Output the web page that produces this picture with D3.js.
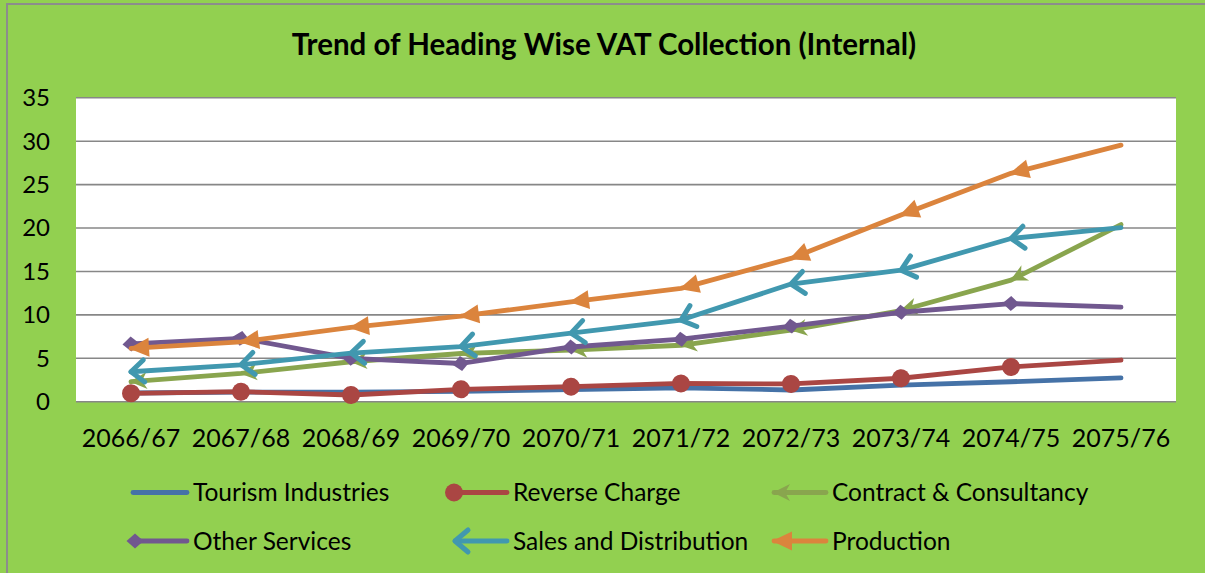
<!DOCTYPE html>
<html>
<head>
<meta charset="utf-8">
<script src="https://cdn.jsdelivr.net/npm/d3@7"></script>
<style>
  html, body { margin: 0; padding: 0; background: #92D050; }
  svg { display: block; font-family: Lato, "Open Sans", sans-serif; }
</style>
</head>
<body>
<div id="chart"></div>
<script>
// values
const categories = ['2066/67', '2067/68', '2068/69', '2069/70', '2070/71', '2071/72', '2072/73', '2073/74', '2074/75', '2075/76'];
const tourism = [1.0, 1.1, 1.1, 1.2, 1.4, 1.6, 1.35, 1.9, 2.3, 2.75];
const reverseCharge = [0.97, 1.15, 0.77, 1.43, 1.73, 2.1, 2.05, 2.7, 4.0, 4.8];
const contract = [2.3, 3.25, 4.6, 5.55, 5.95, 6.5, 8.25, 10.5, 14.0, 20.4];
const otherServices = [6.65, 7.3, 5.0, 4.4, 6.3, 7.2, 8.7, 10.3, 11.3, 10.9];
const sales = [3.45, 4.25, 5.6, 6.35, 7.9, 9.4, 13.55, 15.15, 18.8, 20.05];
const production = [6.15, 6.9, 8.55, 9.85, 11.5, 13.05, 16.5, 21.5, 26.3, 29.55];
const yTicks = [0, 5, 10, 15, 20, 25, 30, 35];

const series = [
  { name: 'Tourism Industries', values: tourism, color: '#4572A7', marker: 'none' },
  { name: 'Reverse Charge', values: reverseCharge, color: '#AA4643', marker: 'oval' },
  { name: 'Contract & Consultancy', values: contract, color: '#89A54E', marker: 'stealth' },
  { name: 'Other Services', values: otherServices, color: '#71588F', marker: 'diamond' },
  { name: 'Sales and Distribution', values: sales, color: '#4198AF', marker: 'open' },
  { name: 'Production', values: production, color: '#DB843D', marker: 'triangle' }
];

const width = 1205, height = 573;
const plot = { left: 76, right: 1176, top: 97.8, bottom: 401.7 };

const svg = d3.select('#chart').append('svg')
  .attr('width', width)
  .attr('height', height);

// chart area with the thin grey frame
svg.append('rect')
  .attr('x', 7).attr('y', 4)
  .attr('width', width + 20).attr('height', height + 20)
  .attr('fill', '#92D050')
  .attr('stroke', '#8c8c8c')
  .attr('stroke-width', 2);

const x = d3.scalePoint().domain(categories).range([plot.left, plot.right]).padding(0.5);
const y = d3.scaleLinear().domain([0, 35]).range([plot.bottom, plot.top]);

svg.append('rect')
  .attr('x', plot.left).attr('y', plot.top)
  .attr('width', plot.right - plot.left).attr('height', plot.bottom - plot.top)
  .attr('fill', '#ffffff');

svg.append('g')
  .selectAll('line')
  .data(yTicks)
  .enter().append('line')
  .attr('x1', plot.left).attr('x2', plot.right)
  .attr('y1', (d) => y(d)).attr('y2', (d) => y(d))
  .attr('stroke', '#878787')
  .attr('stroke-width', 1.6);

svg.append('g')
  .selectAll('text')
  .data(yTicks)
  .enter().append('text')
  .attr('x', 50)
  .attr('y', (d) => y(d))
  .attr('dy', '0.35em')
  .attr('text-anchor', 'end')
  .style('font-size', '24px')
  .text((d) => d);

svg.append('g')
  .selectAll('text')
  .data(categories)
  .enter().append('text')
  .attr('x', (d) => x(d))
  .attr('y', 438)
  .attr('dy', '0.35em')
  .attr('text-anchor', 'middle')
  .style('font-size', '25px')
  .text((d) => d);

svg.append('text')
  .attr('x', 604)
  .attr('y', 45)
  .attr('dy', '0.35em')
  .attr('text-anchor', 'middle')
  .style('font-size', '29.5px')
  .style('font-weight', 'bold')
  .text('Trend of Heading Wise VAT Collection (Internal)');

// marker shapes, tip at origin pointing along +x
function drawMarker(g, type, color) {
  if (type === 'oval') {
    g.append('circle').attr('r', 9).attr('fill', color);
  } else if (type === 'diamond') {
    g.append('path').attr('d', 'M8.5,0L0,-7.5L-8.5,0L0,7.5Z').attr('fill', color);
  } else if (type === 'triangle') {
    g.append('path').attr('d', 'M2,0L-18,-9.5L-18,9.5Z').attr('fill', color);
  } else if (type === 'stealth') {
    g.append('path').attr('d', 'M1,0L-16,-8.5L-11,0L-16,8.5Z').attr('fill', color);
  } else if (type === 'open') {
    g.append('path').attr('d', 'M-13,-11L0,0L-13,11')
      .attr('fill', 'none')
      .attr('stroke', color)
      .attr('stroke-width', 5)
      .attr('stroke-linecap', 'round')
      .attr('stroke-linejoin', 'round');
  }
}

const line = d3.line()
  .x((d, i) => x(categories[i]))
  .y((d) => y(d));

series.forEach((s) => {
  const g = svg.append('g');
  g.append('path')
    .attr('d', line(s.values))
    .attr('fill', 'none')
    .attr('stroke', s.color)
    .attr('stroke-width', 4.8)
    .attr('stroke-linejoin', 'round')
    .attr('stroke-linecap', 'round');

  if (s.marker === 'none') return;
  // arrow at the start of each segment, drawn from later point back to earlier one
  s.values.slice(0, -1).forEach((v, i) => {
    const px = x(categories[i]), py = y(v);
    const qx = x(categories[i + 1]), qy = y(s.values[i + 1]);
    const angle = Math.atan2(py - qy, px - qx) * 180 / Math.PI;
    const m = g.append('g').attr('transform', `translate(${px},${py}) rotate(${angle})`);
    drawMarker(m, s.marker, s.color);
  });
});

// legend
const legendText = [193, 513, 832];
const legendRows = [492.5, 541];
const legend = svg.append('g');
series.forEach((s, i) => {
  const tx = legendText[i % 3];
  const ly = legendRows[Math.floor(i / 3)];
  const start = s.marker === 'oval' ? tx - 59 : (s.marker === 'none' ? tx - 60 : tx - 58);
  const item = legend.append('g');
  item.append('line')
    .attr('x1', start).attr('x2', tx - 6)
    .attr('y1', ly).attr('y2', ly)
    .attr('stroke', s.color)
    .attr('stroke-width', 4.8)
    .attr('stroke-linecap', 'round');
  if (s.marker !== 'none') {
    const m = item.append('g').attr('transform', `translate(${start},${ly}) rotate(180)`);
    drawMarker(m, s.marker, s.color);
  }
  item.append('text')
    .attr('x', tx)
    .attr('y', ly)
    .attr('dy', '0.35em')
    .style('font-size', '24.5px')
    .text(s.name);
});
</script>
</body>
</html>
